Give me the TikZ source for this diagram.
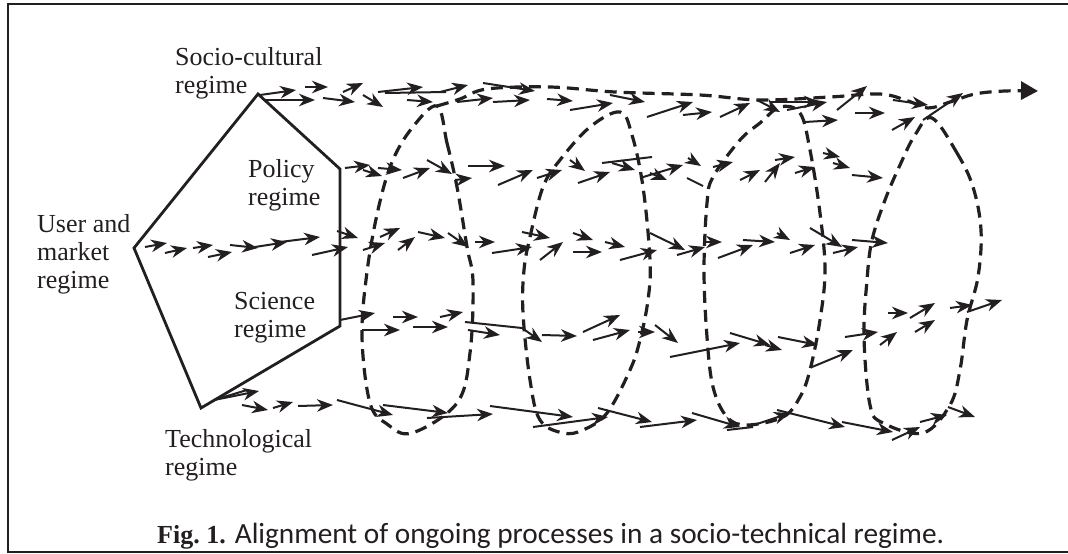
\documentclass[tikz,border=0pt]{standalone}
\usepackage{fontspec}
\setmainfont{Liberation Serif}
\newfontfamily\capsans{Carlito}
\usetikzlibrary{arrows.meta}
\definecolor{ink}{HTML}{231F20}
% left-aligned stack of lines whose baseline is the first line
\newcommand\labelstack[1]{\vtop{\halign{##\hfil\cr#1\crcr}}}
\tikzset{
  flow/.style={draw=ink, line width=2pt, -{Stealth[length=16pt,width=12.5pt,inset=5pt]}},
  bare/.style={draw=ink, line width=2pt},
  ring/.style={draw=ink, line width=3.2pt, dash pattern=on 12pt off 7pt},
  regimebox/.style={draw=ink, line width=2.8pt, line join=miter},
  lbl/.style={inner sep=0pt, anchor=base west, text=ink, font=\fontsize{26}{28}\selectfont},
}
\begin{document}
\begin{tikzpicture}[x=1pt,y=-1pt]
\useasboundingbox (0,0) rectangle (1068,554);
% frame
\draw[ink, line width=2pt] (1070,4) -- (8,4) -- (8,552) -- (1070,552);

% the five-sided regime outline
\draw[regimebox] (258,94) -- (340,169) -- (340,326) -- (201,408) -- (134,248) -- cycle;

% labels
\node[lbl] (socio) at (175,65) {\labelstack{Socio-cultural\cr regime}};
\node[lbl] (policy) at (248,177) {\labelstack{Policy\cr regime}};
\node[lbl] (user) at (37,232) {\labelstack{User and\cr market\cr regime}};
\node[lbl] (science) at (234,309) {\labelstack{Science\cr regime}};
\node[lbl] (techno) at (165,447) {\labelstack{Technological\cr regime}};

% dashed cross-sections
\draw[ring] plot[smooth cycle, tension=0.6] coordinates {
  (437,106) (447,143) (457,187) (467,247) (473,282) (470,353) (457,403)
  (412,433) (387,424) (370,403) (362,337) (367,272) (378,210) (392,162) (412,128)};
\draw[ring] plot[smooth cycle, tension=0.6] coordinates {
  (620,112) (632,135) (643,187) (650,260) (648,300) (640,340) (630,370) (607,413)
  (583,430) (563,433) (540,420) (530,380) (523,313) (524,270) (530,237) (543,187)
  (560,160) (590,127)};
\draw[ring] plot[smooth cycle, tension=0.6] coordinates {
  (780,107) (800,113) (810,150) (820,213) (825,270) (820,320) (810,370) (800,397)
  (783,417) (747,425) (727,417) (713,387) (707,337) (704,270) (707,203) (713,177)
  (740,140) (760,123)};
\draw[ring] plot[smooth cycle, tension=0.6] coordinates {
  (932,118) (957,153) (973,187) (981,230) (978,277) (967,320) (960,370) (950,405)
  (923,433) (883,423) (870,405) (864,337) (867,280) (872,240) (885,200) (900,165)
  (915,135)};
% dashed path along the top, ending in the large arrow
\draw[ring, -{Triangle[length=17pt,width=18pt]}] plot[smooth, tension=0.6] coordinates {
  (437,106) (460,99) (487,89) (550,87) (615,92) (700,95) (760,100) (830,97)
  (880,94) (908,101) (928,108) (950,102) (975,94) (1005,91) (1038,91)};

% processes: socio-cultural row
\foreach \xa/\ya/\xb/\yb in {
  260/95/296/90, 263/100/315/100, 305/87/328/87, 323/98/355/102, 343/92/363/83,
  363/95/383/107, 378/92/423/87, 440/92/468/85, 407/100/433/102, 457/102/493/98,
  493/102/530/100, 483/83/535/91, 547/99/573/101, 570/110/613/103, 610/95/645/102,
  647/117/693/102, 683/115/712/112, 720/117/750/103, 757/100/780/112, 770/102/820/102,
  787/110/827/102, 805/122/838/120, 837/110/867/86, 855/113/885/113, 893/100/928/105,
  892/130/915/117, 923/120/963/93}
  \draw[flow] (\xa,\ya) -- (\xb,\yb);
\draw[bare] (385,93) -- (446,92);

% policy row
\foreach \xa/\ya/\xb/\yb in {
  345/168/370/165, 363/170/382/176, 378/168/402/170, 403/178/430/168, 427/160/452/174,
  455/180/472/178, 468/166/505/166, 498/185/533/170, 537/178/562/170, 570/160/585/171,
  578/183/610/172, 612/163/635/170, 640/178/683/165, 650/173/667/180, 688/158/701/166,
  713/167/733/162, 740/180/760/170, 765/182/780/163, 775/160/795/157, 795/173/815/167,
  823/153/840/157, 833/163/850/168, 852/175/883/178}
  \draw[flow] (\xa,\ya) -- (\xb,\yb);
\draw[bare] (602,163) -- (652,157);
\draw[bare] (687,178) -- (703,186);

% user and market row
\foreach \xa/\ya/\xb/\yb in {
  145/247/167/243, 165/253/187/248, 193/248/213/245, 208/257/232/252, 230/245/258/248,
  255/247/287/242, 280/242/320/237, 312/255/348/247, 337/231/358/238, 363/250/385/243,
  380/237/400/228, 398/250/415/237, 418/232/445/238, 448/233/468/247, 475/242/495/242,
  492/253/532/247, 522/232/550/238, 540/260/563/242, 573/233/593/240, 573/252/602/252,
  605/242/625/247, 620/260/657/250, 650/233/685/250, 677/255/705/247, 703/242/722/242,
  718/258/753/245, 743/240/775/242, 777/233/790/240, 790/253/815/245, 810/228/842/247,
  833/253/858/247, 852/240/888/243}
  \draw[flow] (\xa,\ya) -- (\xb,\yb);

% science row
\foreach \xa/\ya/\xb/\yb in {
  340/320/375/313, 362/330/400/330, 393/317/418/317, 413/327/448/327, 440/317/463/312,
  468/330/500/335, 542/335/577/336, 583/332/620/315, 593/340/630/330, 638/332/655/332,
  655/325/678/343, 670/357/740/343, 730/333/770/345, 765/345/782/350, 778/337/818/345,
  812/367/853/350, 845/337/878/332, 880/345/897/332, 888/313/908/313, 910/318/935/303,
  915/332/935/320, 950/308/972/305, 967/312/1002/300}
  \draw[flow] (\xa,\ya) -- (\xb,\yb);
\draw[flow] (465,322) -- (522,328) -- (542,342);

% technological row
\foreach \xa/\ya/\xb/\yb in {
  214/400/259/391, 242/405/268/410, 273/408/293/402, 298/406/333/405, 337/400/393/415,
  383/405/448/413, 427/418/493/414, 490/406/573/417, 533/427/608/417, 598/408/652/422,
  640/427/697/420, 692/413/740/427, 748/427/790/413, 777/410/845/427, 842/422/893/432,
  892/440/920/427, 920/422/947/415, 948/407/975/417}
  \draw[flow] (\xa,\ya) -- (\xb,\yb);
\draw[bare] (214,400) -- (247,390);
\draw[bare] (727,430) -- (753,427);

% caption
\node[inner sep=0pt, anchor=base west, text=ink] (caption) at (157,543)
  {\fontsize{26}{28}\selectfont\textbf{Fig.~1.}\hspace{9pt}{\capsans\fontsize{29.3}{31}\selectfont Alignment of ongoing processes in a socio-technical regime.}};
\end{tikzpicture}
\end{document}
